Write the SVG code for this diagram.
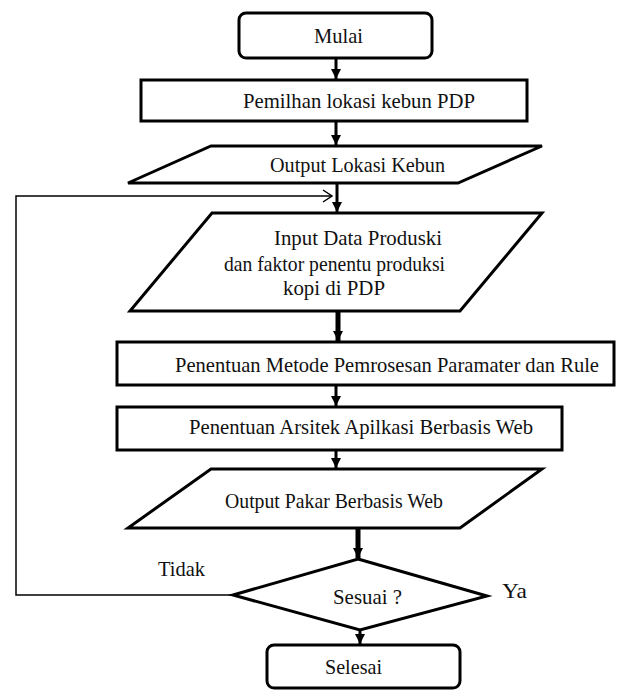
<svg xmlns="http://www.w3.org/2000/svg" width="617" height="691" viewBox="0 0 617 691">
  <style>
    .shape { fill: #ffffff; stroke: #000000; stroke-width: 3; stroke-linejoin: miter; }
    .label { font-family: 'Liberation Serif', 'DejaVu Serif', serif; font-size: 21px; fill: #111111; }
    .flow { stroke: #000000; stroke-width: 3; fill: none; }
    .flow-heavy { stroke: #000000; stroke-width: 5; fill: none; }
    .loop { stroke: #000000; stroke-width: 1.5; fill: none; }
  </style>
  <defs>
    <marker id="head" markerUnits="userSpaceOnUse" markerWidth="12" markerHeight="10" refX="10" refY="5" orient="auto">
      <path d="M0,0 L10,5 L0,10 Z" fill="#000000"/>
    </marker>
    <marker id="open-head" markerUnits="userSpaceOnUse" markerWidth="12" markerHeight="14" refX="10" refY="7" orient="auto">
      <path d="M1,1 L10,7 L1,13" fill="none" stroke="#000000" stroke-width="1.5"/>
    </marker>
  </defs>

  <rect width="617" height="691" fill="#ffffff"/>

  <!-- flow connectors; the thin loop returns the "Tidak" branch to the input step -->
  <g id="connectors">
    <line class="flow" x1="336" y1="58" x2="336" y2="79" marker-end="url(#head)"/>
    <line class="flow" x1="336" y1="121" x2="336" y2="145" marker-end="url(#head)"/>
    <line class="flow" x1="337" y1="183" x2="337" y2="212" marker-end="url(#head)"/>
    <polyline class="loop" points="233,595 16,595 16,196 332,196" marker-end="url(#open-head)"/>
    <line class="flow-heavy" x1="338" y1="311" x2="338" y2="341" marker-end="url(#head)"/>
    <line class="flow" x1="336" y1="385" x2="336" y2="406" marker-end="url(#head)"/>
    <line class="flow" x1="336" y1="450" x2="336" y2="468" marker-end="url(#head)"/>
    <line class="flow-heavy" x1="358" y1="528" x2="358" y2="558" marker-end="url(#head)"/>
    <line class="flow" x1="360" y1="630" x2="360" y2="644" marker-end="url(#head)"/>
  </g>

  <g font-family="Liberation Serif, DejaVu Serif, serif">
  <g id="mulai">
    <rect class="shape" x="239" y="13" width="193" height="45" rx="7"/>
    <text class="label" x="314" y="43" textLength="49" lengthAdjust="spacingAndGlyphs">Mulai</text>
  </g>

  <g id="pemilhan">
    <rect class="shape" x="141" y="80" width="386" height="41"/>
    <text class="label" x="243" y="108" textLength="232" lengthAdjust="spacingAndGlyphs">Pemilhan lokasi kebun PDP</text>
  </g>

  <g id="output-lokasi">
    <polygon class="shape" points="211,146 542,146 458,183 128,183"/>
    <text class="label" x="270" y="172" textLength="175" lengthAdjust="spacingAndGlyphs">Output Lokasi Kebun</text>
  </g>

  <g id="input-data">
    <polygon class="shape" points="212,213 542,213 460,311 130,311"/>
    <text class="label" x="274" y="245" textLength="168" lengthAdjust="spacingAndGlyphs">Input Data Produski</text>
    <text class="label" x="224" y="271" textLength="221" lengthAdjust="spacingAndGlyphs">dan faktor penentu produksi</text>
    <text class="label" x="283" y="295" textLength="102" lengthAdjust="spacingAndGlyphs">kopi di PDP</text>
  </g>

  <g id="metode">
    <rect class="shape" x="117" y="342" width="497" height="43"/>
    <text class="label" x="175" y="372" textLength="424" lengthAdjust="spacingAndGlyphs">Penentuan Metode Pemrosesan Paramater dan Rule</text>
  </g>

  <g id="arsitek">
    <rect class="shape" x="117" y="407" width="445" height="43"/>
    <text class="label" x="189" y="434" textLength="344" lengthAdjust="spacingAndGlyphs">Penentuan Arsitek Apilkasi Berbasis Web</text>
  </g>

  <g id="output-pakar">
    <polygon class="shape" points="211,469 542,469 460,528 128,528"/>
    <text class="label" x="225" y="508" textLength="218" lengthAdjust="spacingAndGlyphs">Output Pakar Berbasis Web</text>
  </g>

  <g id="sesuai">
    <polygon class="shape" points="358,559 487,596 360,630 233,595"/>
    <text class="label" x="333" y="604" textLength="69" lengthAdjust="spacingAndGlyphs">Sesuai ?</text>
  </g>

  <g id="branch-labels">
    <text class="label" x="158" y="576" textLength="47" lengthAdjust="spacingAndGlyphs">Tidak</text>
    <text class="label" x="502" y="598" textLength="25" lengthAdjust="spacingAndGlyphs">Ya</text>
  </g>

  <g id="selesai">
    <rect class="shape" x="267" y="645" width="193" height="43" rx="7"/>
    <text class="label" x="325" y="674" textLength="57" lengthAdjust="spacingAndGlyphs">Selesai</text>
  </g>
  </g>
</svg>
